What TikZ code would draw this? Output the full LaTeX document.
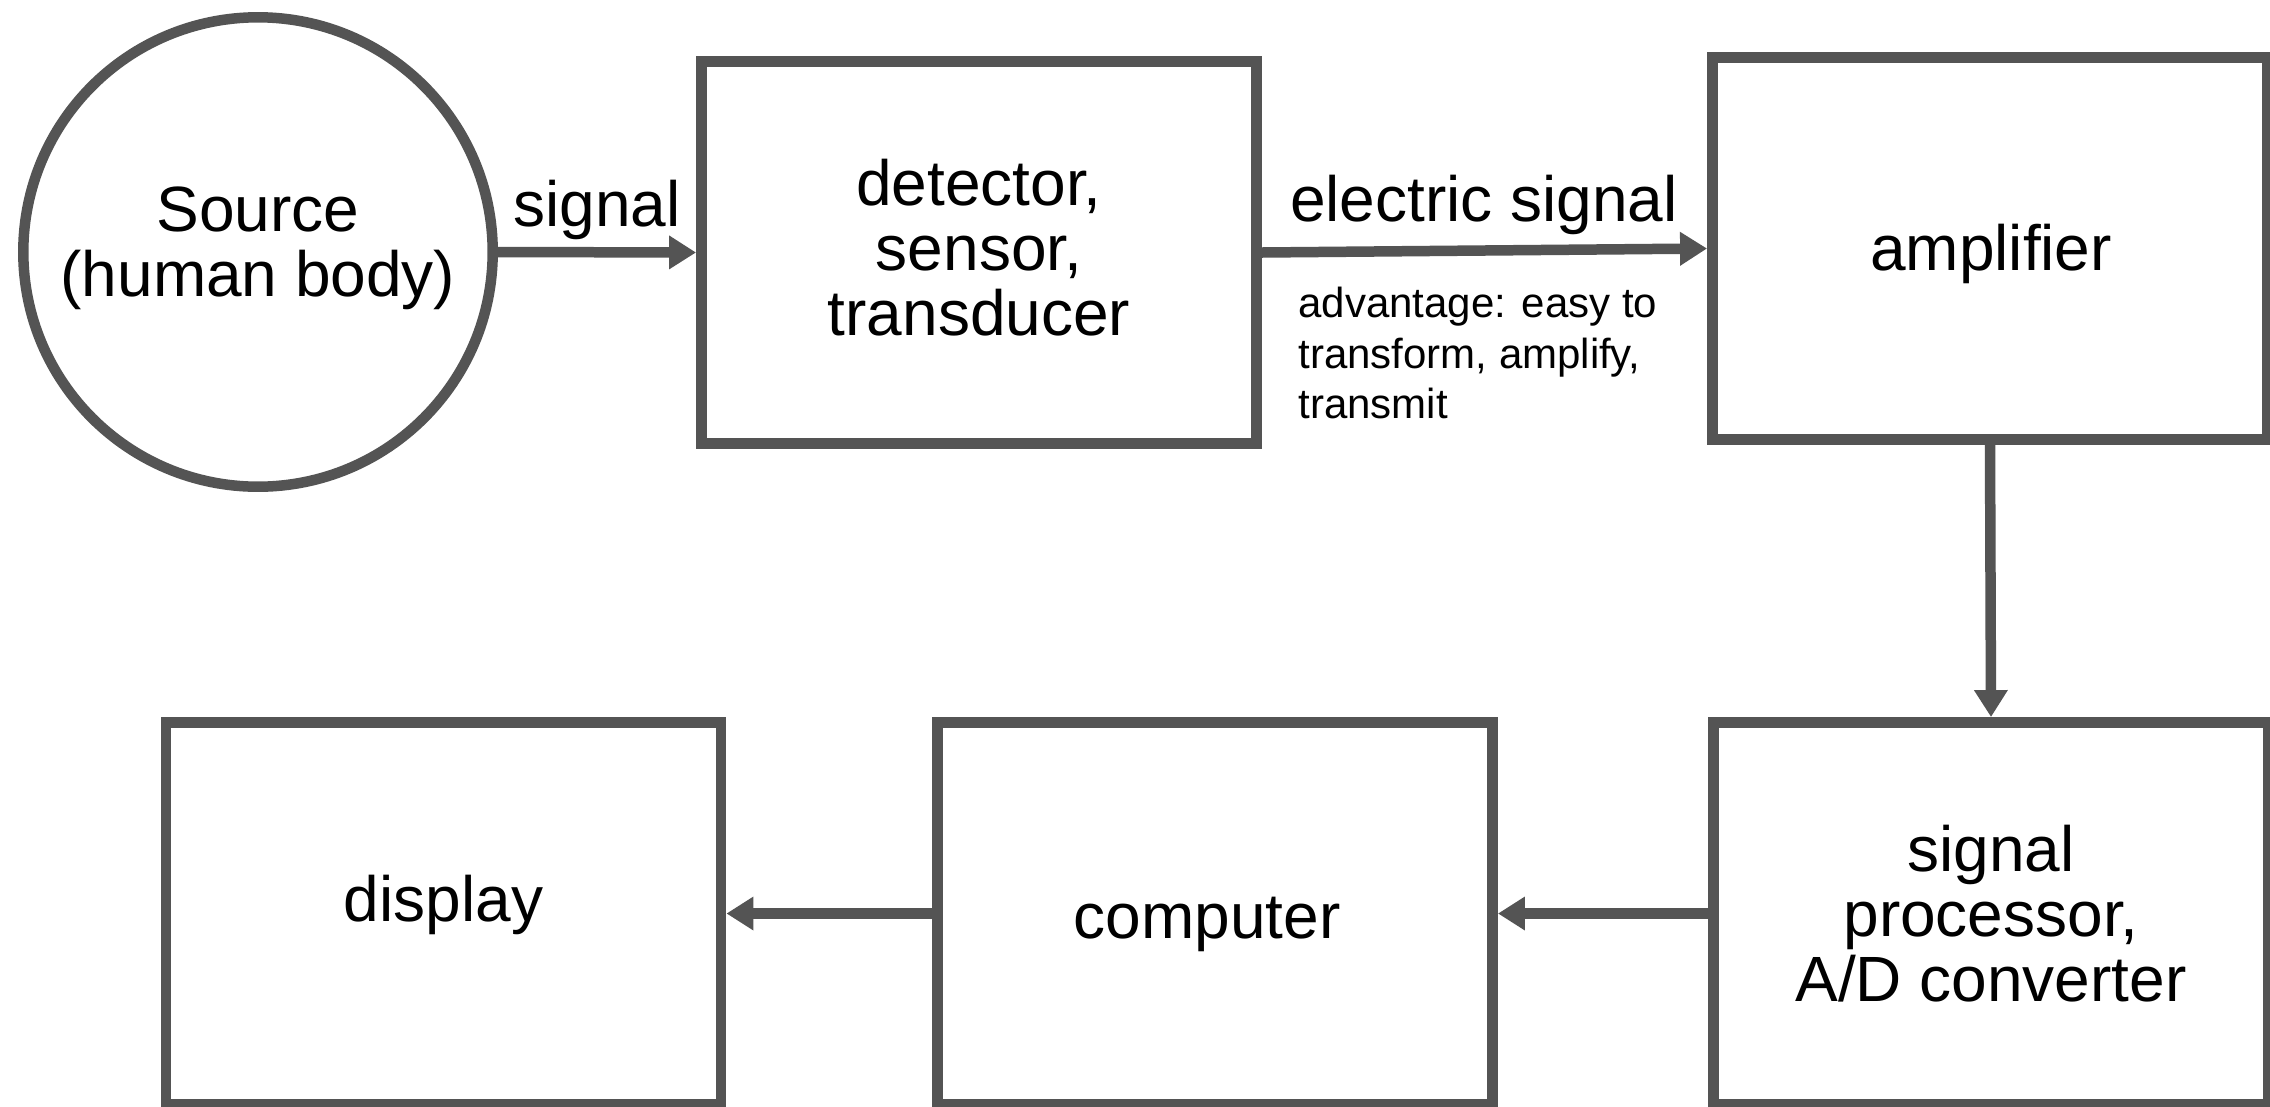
\documentclass[tikz,border=0pt]{standalone}
\usepackage{fontspec}
\setmainfont{Liberation Sans}
\usetikzlibrary{arrows.meta}
\definecolor{edgegray}{RGB}{84,84,84}
\begin{document}
\begin{tikzpicture}[x=0.02cm,y=-0.02cm,
  blockbox/.style={draw=edgegray, line width=0.21cm, rectangle, inner sep=0pt,
    minimum width=11.11cm, minimum height=7.65cm, fill=white},
  srccircle/.style={draw=edgegray, line width=0.21cm, circle, inner sep=0pt,
    minimum size=9.39cm, fill=white},
  bigtext/.style={anchor=base, inner sep=0pt, align=center, text=black,
    font=\fontsize{36.42pt}{36.9pt}\selectfont},
  smalltext/.style={anchor=base west, inner sep=0pt, align=left, text=black,
    font=\fontsize{23.9pt}{28.74pt}\selectfont},
  flow/.style={draw=edgegray, line width=0.21cm,
    -{Triangle[length=0.54cm, width=0.64cm]}}
]
\useasboundingbox (0,0) rectangle (2270,1106);
\fill[white] (0,0) rectangle (2270,1106);

% shapes
\node[srccircle] (src) at (258,252) {};
\node[blockbox] (det) at (979,252.5) {};
\node[blockbox] (amp) at (1990,248.5) {};
\node[blockbox] (sp) at (1991,913.5) {};
\node[blockbox] (comp) at (1215,913.5) {};
\node[blockbox] (disp) at (443.5,913.5) {};

% texts (base anchor = baseline of the last line)
\node[bigtext] (srctxt) at (258,296) {Source\\(human body)};
\node[bigtext] (dettxt) at (979,335.5) {detector,\\sensor,\\transducer};
\node[bigtext] (amptxt) at (1991,270) {amplifier};
\node[bigtext] (sptxt) at (1991,1001.5) {signal\\processor,\\A/D converter};
\node[bigtext] (comptxt) at (1207,938) {computer};
\node[bigtext] (disptxt) at (443.5,921.5) {display};

% connectors
\draw[flow] (src.east) -- (det.west);
\draw[flow] (det.east) -- (amp.west);
\draw[flow] (amp.south) -- (sp.north);
\draw[flow] (sp.west) -- (comp.east);
\draw[flow] (comp.west) -- (disp.east);

% connector labels
\node[bigtext] (siglbl) at (597,226.5) {signal};
\node[bigtext] (elbl) at (1484,221) {electric signal};
\node[smalltext] (advlbl) at (1298,418.5) {advantage: easy to\\transform, amplify,\\transmit};
\end{tikzpicture}
\end{document}
